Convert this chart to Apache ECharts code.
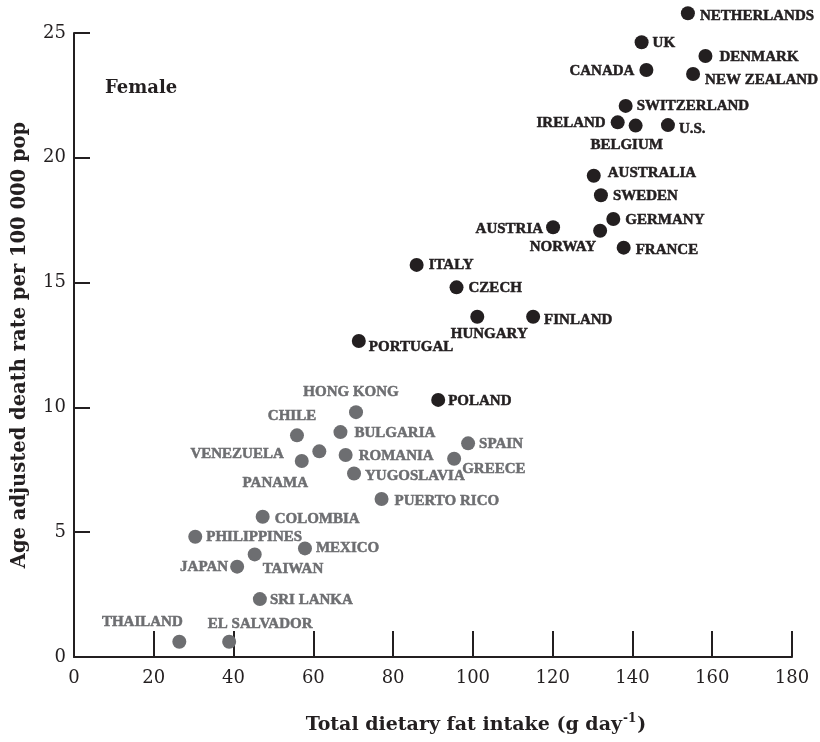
<!DOCTYPE html>
<html><head><meta charset="utf-8">
<script src="https://cdn.jsdelivr.net/npm/echarts@6/dist/echarts.min.js"></script>
<style>html,body{margin:0;padding:0;background:#fff}#c{width:820px;height:742px}</style>
</head><body><div id="c"></div>
<script>
// High-rate countries (dark points)
const highNames = ['NETHERLANDS','UK','DENMARK','CANADA','NEW ZEALAND','SWITZERLAND','IRELAND','BELGIUM','U.S.','AUSTRALIA','SWEDEN','GERMANY','AUSTRIA','NORWAY','FRANCE','ITALY','CZECH','HUNGARY','FINLAND','PORTUGAL','POLAND'];
const highFat   = [153.9,142.3,158.3,143.5,155.2,138.3,136.3,140.8,148.9,130.3,132.1,135.2,120.1,131.9,137.8,85.9,95.9,101.1,115.1,71.4,91.3];
const highDeath = [25.79,24.63,24.08,23.52,23.36,22.08,21.42,21.29,21.31,19.28,18.50,17.55,17.22,17.08,16.40,15.71,14.81,13.63,13.63,12.66,10.30];

// Low-rate countries (grey points)
const lowNames = ['HONG KONG','CHILE','BULGARIA','PANAMA','VENEZUELA','ROMANIA','YUGOSLAVIA','GREECE','SPAIN','PUERTO RICO','COLOMBIA','PHILIPPINES','MEXICO','TAIWAN','JAPAN','SRI LANKA','THAILAND','EL SALVADOR'];
const lowFat   = [70.7,55.9,66.8,61.5,57.1,68.1,70.2,95.3,98.8,77.1,47.3,30.4,57.9,45.3,40.9,46.6,26.4,38.9];
const lowDeath = [9.81,8.88,9.01,8.24,7.85,8.09,7.35,7.94,8.56,6.33,5.62,4.82,4.35,4.11,3.62,2.32,0.61,0.61];

// Tick labels
const xTickLabels = ['0','20','40','60','80','100','120','140','160','180'];
const yTickLabels = ['0','5','10','15','20','25'];

// Label placement: [align, dx, dy] relative to point centre
const labelPlace = {
  'NETHERLANDS':['left',12,3],'UK':['left',11,1],'DENMARK':['left',14,1],'CANADA':['right',-12,1],
  'NEW ZEALAND':['left',12,6],'SWITZERLAND':['left',11,0],'IRELAND':['right',-12,1],'BELGIUM':['center',-9,20],
  'U.S.':['left',11,4],'AUSTRALIA':['left',14,-3],'SWEDEN':['left',12,1],'GERMANY':['left',12,1],
  'AUSTRIA':['right',-10,2],'NORWAY':['right',-4,16],'FRANCE':['left',12,2],'ITALY':['left',12,0],
  'CZECH':['left',12,1],'HUNGARY':['center',12,17],'FINLAND':['left',11,3],'PORTUGAL':['left',10,6],
  'POLAND':['left',10,1],
  'HONG KONG':['center',-5,-20],'CHILE':['center',-5,-19],'BULGARIA':['left',14,1],'PANAMA':['center',-44,32],
  'VENEZUELA':['right',-18,-7],'ROMANIA':['left',13,1],'YUGOSLAVIA':['left',11,3],'GREECE':['left',8,10],
  'SPAIN':['left',11,1],'PUERTO RICO':['left',13,2],'COLOMBIA':['left',12,2],'PHILIPPINES':['left',11,0],
  'MEXICO':['left',11,0],'TAIWAN':['left',8,15],'JAPAN':['right',-9,0],'SRI LANKA':['left',10,1],
  'THAILAND':['center',-37,-20],'EL SALVADOR':['center',31,-18]
};

const DARK = '#231f20', GREY = '#6d6e71';

function build(names, xs, ys) {
  return names.map((n, i) => {
    const p = labelPlace[n] || ['left', 10, 0];
    return { name: n, value: [xs[i], ys[i]], label: { align: p[0], offset: [p[1], p[2]] } };
  });
}

function series(names, xs, ys, color) {
  return {
    type: 'scatter', symbol: 'circle', symbolSize: 14, clip: false, silent: true,
    itemStyle: { color: color, opacity: 1 },
    label: {
      show: true, position: 'inside', verticalAlign: 'middle',
      formatter: '{b}', color: color,
      fontFamily: 'Liberation Serif', fontWeight: 'bold', fontSize: 15,
      textBorderColor: color, textBorderWidth: 0.5
    },
    emphasis: { disabled: true },
    data: build(names, xs, ys)
  };
}

const chart = echarts.init(document.getElementById('c'), null, { renderer: 'canvas' });
chart.setOption({
  animation: false,
  backgroundColor: '#fff',
  title: {
    text: 'Female', left: 105, top: 79, padding: 0,
    textStyle: { fontFamily: 'DejaVu Serif', fontWeight: 'bold', fontSize: 18, color: DARK }
  },
  grid: { left: 74, right: 28, top: 33, bottom: 85, containLabel: false },
  xAxis: {
    type: 'value', min: 0, max: 180, interval: 20,
    axisLine: { lineStyle: { color: DARK, width: 2 } },
    axisTick: { inside: true, length: 26, lineStyle: { color: DARK, width: 2 } },
    splitLine: { show: false },
    axisLabel: {
      margin: 12, color: DARK, fontFamily: 'DejaVu Serif', fontSize: 18,
      formatter: v => xTickLabels[Math.round(v / 20)]
    },
    name: '{m|Total dietary fat intake (g day}{s|-1}{m|)}',
    nameLocation: 'middle', nameGap: 56,
    nameTextStyle: {
      padding: [0, 0, 0, 86],
      rich: {
        m: { fontFamily: 'DejaVu Serif', fontWeight: 'bold', fontSize: 19, color: DARK, lineHeight: 24 },
        s: { fontFamily: 'DejaVu Serif', fontWeight: 'bold', fontSize: 12, color: DARK, verticalAlign: 'top', lineHeight: 24, padding: [0, 1, 0, 1] }
      }
    }
  },
  yAxis: {
    type: 'value', min: 0, max: 25, interval: 5,
    axisLine: { show: true, lineStyle: { color: DARK, width: 2 } },
    axisTick: { show: true, inside: true, length: 16, lineStyle: { color: DARK, width: 2 } },
    splitLine: { show: false },
    axisLabel: {
      margin: 8, color: DARK, fontFamily: 'DejaVu Serif', fontSize: 18,
      formatter: v => yTickLabels[Math.round(v / 5)]
    },
    name: 'Age adjusted death rate per 100 000 pop',
    nameLocation: 'middle', nameRotate: 90, nameGap: 44,
    nameTextStyle: { fontFamily: 'DejaVu Serif', fontWeight: 'bold', fontSize: 19.5, color: DARK }
  },
  series: [
    series(highNames, highFat, highDeath, DARK),
    series(lowNames, lowFat, lowDeath, GREY)
  ]
});
</script>
</body></html>
